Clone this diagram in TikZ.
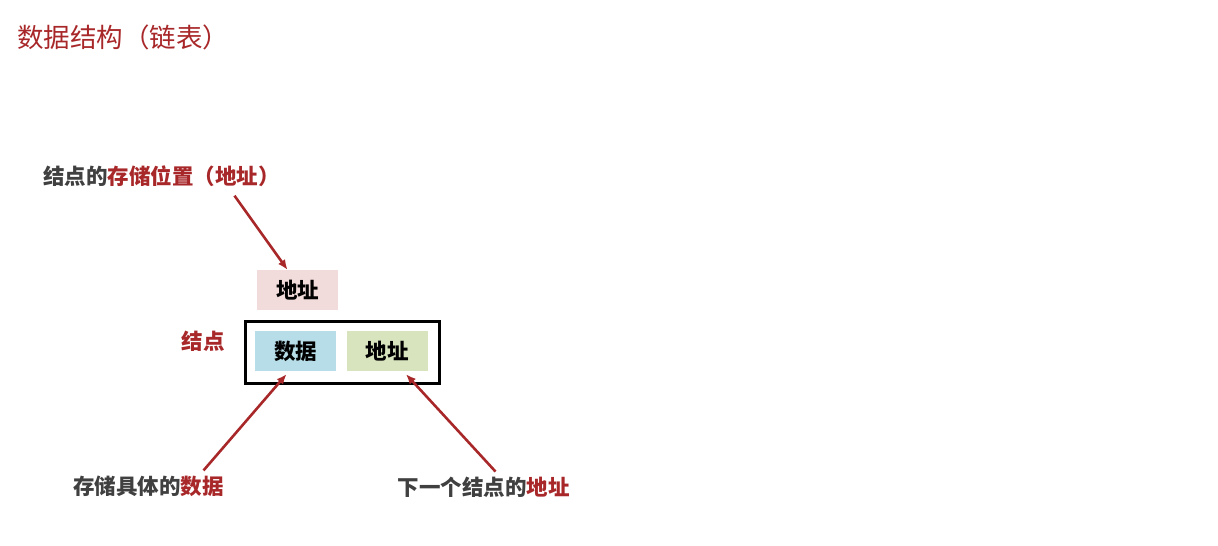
\documentclass[tikz,border=0pt]{standalone}
\usepackage{fontspec}
\usepackage{tikz}
\usetikzlibrary{arrows.meta}
\newfontfamily\cjk{Noto Sans CJK SC}
\definecolor{linkred}{HTML}{A8282A}
\definecolor{txtgray}{HTML}{404040}
\definecolor{addrpink}{HTML}{F2DCDB}
\definecolor{datablue}{HTML}{B7DEE8}
\definecolor{nextgreen}{HTML}{D7E4BD}
\tikzset{%
  cell/.style = {shape=rectangle, minimum width=81pt, minimum height=40pt,
    inner sep=0pt, font=\cjk\bfseries\fontsize{21.5}{25}\selectfont},
  note/.style = {font=\cjk\bfseries\fontsize{21.5}{25}\selectfont,
    text=txtgray, inner sep=0pt},
  pointer/.style = {draw=linkred, line width=2.6pt, -{Latex[length=10pt,width=8.5pt]}}
}
\begin{document}
\begin{tikzpicture}[x=1pt,y=-1pt]
  \useasboundingbox (0,0) rectangle (1218,546);
  \node[anchor=west, inner sep=0pt, text=linkred,
    font=\cjk\fontsize{26.5}{30}\selectfont] (title) at (17,37) {数据结构（链表）};
  % the node
  \node[cell, fill=addrpink] (addr) at (297.5,290) {地址};
  \node[draw, line width=3pt, minimum width=194pt, minimum height=62pt,
    inner sep=0pt] (knotbox) at (342,352) {};
  \node[cell, fill=datablue] (data) at (295.5,351) {数据};
  \node[cell, fill=nextgreen] (next) at (387,351) {地址};
  \node[note, text=linkred] (knot) at (203,341) {结点};
  % notes
  \node[note] (where) at (161.5,176) {结点的\textcolor{linkred}{存储位置（地址）}};
  \node[note] (hold) at (148.5,486) {存储具体的\textcolor{linkred}{数据}};
  \node[note] (nextaddr) at (483.5,487) {下一个结点的\textcolor{linkred}{地址}};
  \draw[pointer] ([xshift=73pt,yshift=-9pt]where.south) -- ([xshift=-10pt]addr.north);
  \draw[pointer] ([xshift=55pt,yshift=5pt]hold.north) -- ([xshift=-9pt,yshift=-3pt]data.south);
  \draw[pointer] ([xshift=12pt,yshift=5pt]nextaddr.north) -- ([xshift=19pt,yshift=-3pt]next.south);
\end{tikzpicture}
\end{document}
